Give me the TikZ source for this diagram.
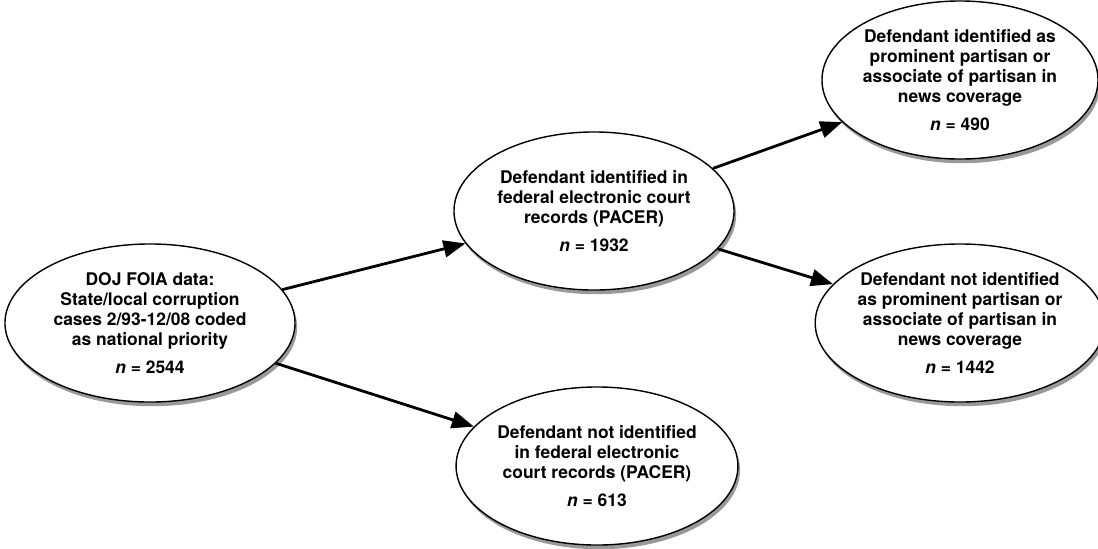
\documentclass[tikz,border=0pt]{standalone}
\usepackage{fontspec}
\setmainfont{TeX Gyre Heros}
\usetikzlibrary{shapes.geometric,shadows,arrows.meta}
\begin{document}
\begin{tikzpicture}[x=0.025cm,y=-0.025cm,
        oval/.style={draw, ellipse, line width=1pt, fill=white, align=center, inner sep=0pt,
            minimum width=7cm, minimum height=3.95cm,
            font=\bfseries\fontsize{12.4}{14.2}\selectfont,
            drop shadow={shadow xshift=1.5pt, shadow yshift=-3pt, opacity=0.4, fill=black}},
        arr/.style={draw, line width=2pt, -{Triangle[length=0.55cm,width=0.42cm]}}]
        \path[use as bounding box] (0,0) rectangle (1098,548);

        \node[oval, minimum width=7.25cm] (1a) at (150,323) {DOJ FOIA data:\\State/local corruption\\cases 2/93-12/08 coded\\as national priority\\[5.5pt]\textit{n} = 2544};
        \node[oval] (2a) at (594,211) {Defendant identified in\\federal electronic court\\records (PACER)\\[5.5pt]\textit{n} = 1932};
        \node[oval] (2b) at (597,466) {Defendant not identified\\in federal electronic\\court records (PACER)\\[5.5pt]\textit{n} = 613};
        \node[oval, minimum width=6.9cm] (3a) at (960,80) {Defendant identified as\\prominent partisan or\\associate of partisan in\\news coverage\\[5.5pt]\textit{n} = 490};
        \node[oval, minimum width=6.9cm] (3b) at (960,323) {Defendant not identified\\as prominent partisan or\\associate of partisan in\\news coverage\\[5.5pt]\textit{n} = 1442};

        \path[arr] (1a) -- (2a);
        \path[arr] (1a) -- (2b);
        \path[arr] (2a) -- (3a);
        \path[arr] (2a) -- (3b);
    \end{tikzpicture}
\end{document}
